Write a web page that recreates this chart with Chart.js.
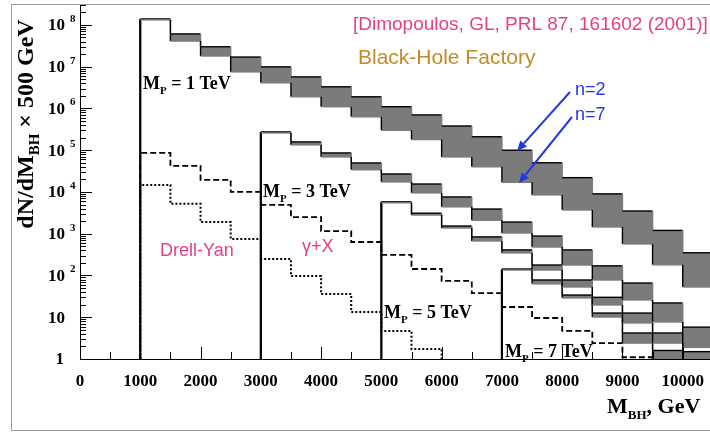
<!DOCTYPE html>
<html>
<head>
<meta charset="utf-8">
<script src="https://cdn.jsdelivr.net/npm/chart.js@4.4.1/dist/chart.umd.min.js"></script>
<style>
  html, body { margin: 0; padding: 0; background: #fff; overflow: hidden; }
  #wrap { position: relative; width: 710px; height: 432px; overflow: hidden; }
  #frame { position: absolute; left: 11px; top: 4px; width: 780px; height: 425px; border: 1px solid #9c9c9c; pointer-events: none; }
  #bh { position: absolute; left: 0; top: 0; }
</style>
</head>
<body>
<div id="wrap">
  <canvas id="bh" width="760" height="432"></canvas>
  <div id="frame"></div>
</div>
<script>
const binWidth = 500; // GeV per bin

// black-hole spectra, one band per Planck scale (upper edge n=2, lower edge n=7)
const mp1Start = 1000;
const mp1N2 = [1.39e8, 6.1e7, 3.0e7, 1.7e7, 9.9e6, 5.7e6, 3.3e6, 1.9e6, 1.1e6, 7.0e5, 3.8e5, 2.1e5, 1.0e5, 5.0e4, 2.2e4, 9.0e3, 3.5e3, 1.2e3, 350];
const mp1N7 = [1.32e8, 4.1e7, 1.8e7, 7.5e6, 4.1e6, 1.9e6, 1.1e6, 6.3e5, 3.0e5, 1.8e5, 6.9e4, 4.0e4, 1.7e4, 8.5e3, 3.7e3, 1.45e3, 570, 180, 53];

const mp3Start = 3000;
const mp3N2 = [2.74e5, 1.58e5, 8.6e4, 4.95e4, 2.7e4, 1.55e4, 7.6e3, 3.9e3, 1.9e3, 880, 410, 170, 66, 22, 5.8];
const mp3N7 = [2.59e5, 1.34e5, 6.9e4, 3.4e4, 1.74e4, 9.5e3, 4.4e3, 2.1e3, 1.04e3, 480, 178, 78, 26, 7.7, 1.9];

const mp5Start = 5000;
const mp5N2 = [5.8e3, 3.1e3, 1.53e3, 840, 410, 178, 78, 30, 12.6, 4.2, 1.5];
const mp5N7 = [5.5e3, 2.8e3, 1.37e3, 670, 346, 135, 53, 19.7, 7.3, 2.4, 1.0];

const mp7Start = 7000;
const mp7N2 = [143, 78, 34, 12.6, 4.2, 1.6];
const mp7N7 = [135, 63, 29, 10.1, 2.4, 1.0];

// standard model backgrounds
const gammaXStart = 1000;
const gammaX = [8.6e4, 4.2e4, 1.94e4, 1.0e4, 4.9e3, 2.5e3, 1.16e3, 634, 310, 143, 74, 38, 17.6, 9.6, 4.7, 2.4, 1.1];
const drellYanStart = 1000;
const drellYan = [1.47e4, 5.2e3, 1.91e3, 750, 248, 97, 36, 13.4, 4.7, 1.74];

// axis ticks
const xTickLabels = ['0', '1000', '2000', '3000', '4000', '5000', '6000', '7000', '8000', '9000', '10000'];
const yDecades = [0, 1, 2, 3, 4, 5, 6, 7, 8];

const BAND_GREY = '#7b7b7b';

// histogram outline: rise from the floor at the first edge, then flat tops
function histPoints(start, values, dropAtEnd) {
  const pts = [{ x: start, y: 1 }];
  values.forEach((v, i) => {
    pts.push({ x: start + i * binWidth, y: v });
    pts.push({ x: start + (i + 1) * binWidth, y: v });
  });
  if (dropAtEnd) pts.push({ x: start + values.length * binWidth, y: 1 });
  return pts;
}

const isVertical = c => c.p0.parsed.x === c.p1.parsed.x;

const datasets = [];
function addBand(start, n2, n7) {
  const top = histPoints(start, n2, false);
  const bottom = histPoints(start, n7, false);
  const lowerIdx = datasets.length + 1;
  // grey fill between the two curves
  datasets.push({ data: top, borderWidth: 0, pointRadius: 0, fill: { target: lowerIdx }, backgroundColor: BAND_GREY });
  datasets.push({ data: bottom, borderWidth: 0, pointRadius: 0, fill: false });
  // n=7 edge: grey flats, black risers
  datasets.push({
    data: bottom, pointRadius: 0, fill: false, borderColor: BAND_GREY, borderWidth: 1.4,
    segment: { borderColor: c => isVertical(c) ? '#000' : BAND_GREY }
  });
  // n=2 edge: black flats, threshold edge drawn heavy
  datasets.push({
    data: top, pointRadius: 0, fill: false, borderColor: '#000', borderWidth: 1.4,
    segment: {
      borderColor: c => (isVertical(c) && c.p0DataIndex !== 0) ? BAND_GREY : '#000',
      borderWidth: c => c.p0DataIndex === 0 ? 2.2 : 1.4
    }
  });
}
addBand(mp1Start, mp1N2, mp1N7);
addBand(mp3Start, mp3N2, mp3N7);
addBand(mp5Start, mp5N2, mp5N7);
addBand(mp7Start, mp7N2, mp7N7);

datasets.push({ data: histPoints(gammaXStart, gammaX, true), pointRadius: 0, fill: false, borderColor: '#000', borderWidth: 1.8, borderDash: [6, 3] });
datasets.push({ data: histPoints(drellYanStart, drellYan, true), pointRadius: 0, fill: false, borderColor: '#000', borderWidth: 2, borderDash: [2, 2] });

const SERIF = '"Liberation Serif", "Times New Roman", serif';
const SANS = '"Liberation Sans", Arial, sans-serif';
const PINK = '#e43f87';

// text runs with sub/superscripts: [text, fontSize, baselineShift]
function drawRuns(ctx, x, y, runs, weight) {
  let cx = x;
  runs.forEach(([t, size, dy]) => {
    ctx.font = `${weight} ${size}px ${SERIF}`;
    ctx.fillText(t, cx, y + dy);
    cx += ctx.measureText(t).width;
  });
  return cx - x;
}
function runsWidth(ctx, runs, weight) {
  let w = 0;
  runs.forEach(([t, size]) => { ctx.font = `${weight} ${size}px ${SERIF}`; w += ctx.measureText(t).width; });
  return w;
}

function arrow(ctx, x0, y0, x1, y1) {
  const ang = Math.atan2(y1 - y0, x1 - x0);
  const hl = 10, hw = 4.5;
  const bx = x1 - hl * Math.cos(ang), by = y1 - hl * Math.sin(ang);
  ctx.beginPath();
  ctx.moveTo(x0, y0);
  ctx.lineTo(bx, by);
  ctx.stroke();
  ctx.beginPath();
  ctx.moveTo(x1, y1);
  ctx.lineTo(bx + hw * Math.sin(ang), by - hw * Math.cos(ang));
  ctx.lineTo(bx - hw * Math.sin(ang), by + hw * Math.cos(ang));
  ctx.closePath();
  ctx.fill();
}

const rootStyle = {
  id: 'rootStyle',
  afterDraw(chart) {
    const { ctx, chartArea: a, scales: { x, y } } = chart;
    ctx.save();
    ctx.strokeStyle = '#000';
    ctx.fillStyle = '#000';
    ctx.lineWidth = 1;

    // y ticks pointing inward
    ctx.beginPath();
    yDecades.forEach(e => {
      for (let m = 1; m <= 9; m++) {
        const v = m * Math.pow(10, e);
        if (v > y.max) break;
        const py = Math.round(y.getPixelForValue(v)) + 0.5;
        ctx.moveTo(a.left, py);
        ctx.lineTo(a.left + (m === 1 ? 12 : 6), py);
      }
    });
    // x ticks pointing inward
    for (let v = 0; v <= x.max; v += binWidth) {
      const px = Math.round(x.getPixelForValue(v)) + 0.5;
      ctx.moveTo(px, a.bottom);
      ctx.lineTo(px, a.bottom - (v % 1000 === 0 ? 12 : 7));
    }
    ctx.stroke();

    // y tick labels 1, 10, 10^2 ...
    ctx.textBaseline = 'middle';
    yDecades.forEach(e => {
      const py = y.getPixelForValue(Math.pow(10, e));
      ctx.textAlign = 'right';
      ctx.font = `bold 17px ${SERIF}`;
      if (e === 0) { ctx.fillText('1', 64, py + 1); return; }
      ctx.fillText('10', 65, py + 1);
      if (e > 1) {
        ctx.textAlign = 'left';
        ctx.font = `bold 11px ${SERIF}`;
        ctx.fillText(String(e), 70, py - 6);
      }
    });

    // x tick labels
    ctx.textAlign = 'center';
    ctx.font = `bold 17px ${SERIF}`;
    xTickLabels.forEach(t => ctx.fillText(t, x.getPixelForValue(Number(t)), 382));

    // axis titles
    ctx.textAlign = 'left';
    ctx.textBaseline = 'alphabetic';
    drawRuns(ctx, 607, 413, [['M', 22, 0], ['BH', 13, 6], [', GeV', 22, 0]], 'bold');

    const yTitle = [['dN/dM', 24, 0], ['BH', 15, 6], [' \u00d7 500 GeV', 24, 0]];
    const tw = runsWidth(ctx, yTitle, 'bold');
    ctx.save();
    ctx.translate(33, 124);
    ctx.rotate(-Math.PI / 2);
    drawRuns(ctx, -tw / 2, 0, yTitle, 'bold');
    ctx.restore();

    // Planck-scale labels
    const mp = [['1', 143, 89], ['3', 263, 197], ['5', 384, 318], ['7', 505, 357]];
    mp.forEach(([n, px, py]) => {
      drawRuns(ctx, px, py, [['M', 18, 0], ['P', 11, 5], [` = ${n} TeV`, 18, 0]], 'bold');
    });

    // annotations
    ctx.font = `19px ${SANS}`;
    ctx.fillStyle = PINK;
    ctx.fillText('[Dimopoulos, GL, PRL 87, 161602 (2001)]', 353, 30);
    ctx.font = `18px ${SANS}`;
    ctx.fillText('Drell-Yan', 160, 256);
    ctx.fillText('\u03b3+X', 302, 252);

    ctx.fillStyle = '#c28a2a';
    ctx.font = `21px ${SANS}`;
    ctx.fillText('Black-Hole Factory', 358, 64);

    ctx.fillStyle = '#2437e0';
    ctx.strokeStyle = '#2437e0';
    ctx.lineWidth = 2;
    ctx.font = `18px ${SANS}`;
    ctx.fillText('n=2', 575, 95);
    ctx.fillText('n=7', 575, 120);
    arrow(ctx, 570, 92, 517, 151);
    arrow(ctx, 572, 117, 519, 183);
    ctx.restore();
  }
};

new Chart(document.getElementById('bh'), {
  type: 'line',
  data: { datasets },
  options: {
    responsive: false,
    animation: false,
    events: [],
    layout: { padding: { top: 5, right: 17, left: 0, bottom: 0 } },
    plugins: {
      legend: { display: false },
      tooltip: { enabled: false },
      filler: { drawTime: 'beforeDatasetsDraw' }
    },
    scales: {
      x: {
        type: 'linear', min: 0, max: 11000,
        grid: { display: false },
        border: { color: '#000', width: 1 },
        ticks: { display: false },
        afterFit(s) { s.height = 73; }
      },
      y: {
        type: 'logarithmic', min: 1, max: 3e8,
        grid: { display: false },
        border: { color: '#000', width: 1 },
        ticks: { display: false },
        afterFit(s) { s.width = 80; }
      }
    }
  },
  plugins: [rootStyle]
});
</script>
</body>
</html>
